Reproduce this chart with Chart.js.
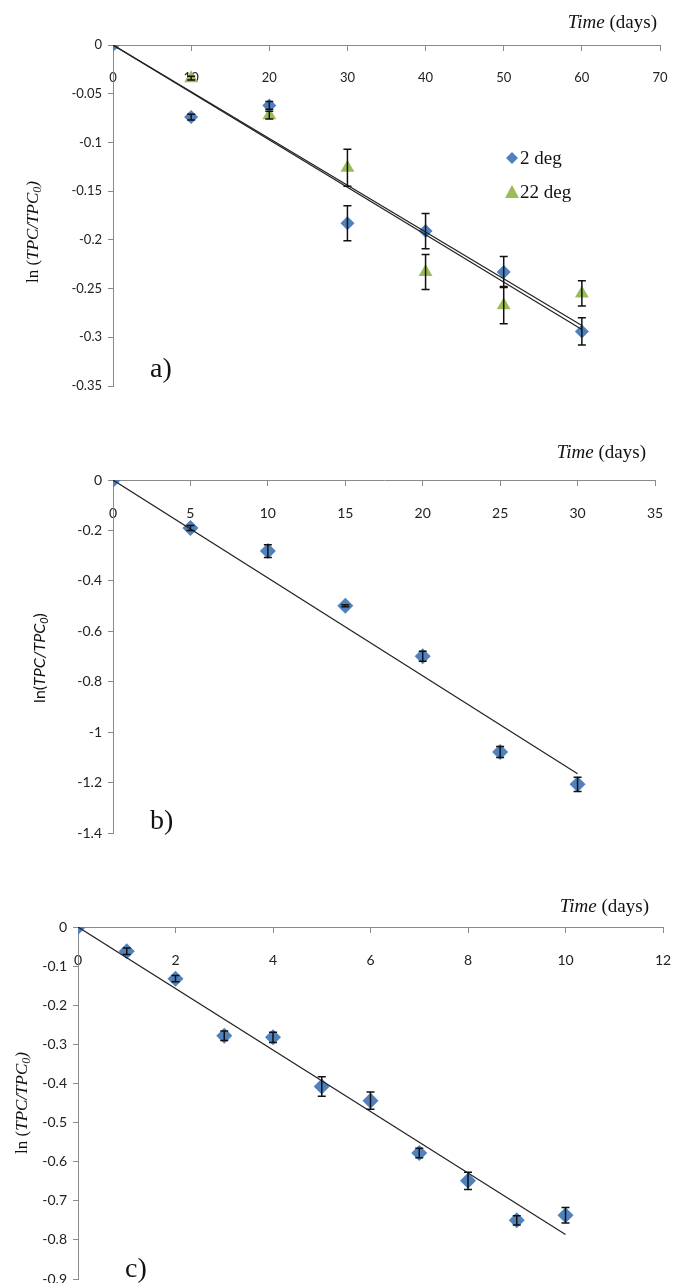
<!DOCTYPE html>
<html lang="en">
<head>
  <meta charset="UTF-8">
  <title>ln(TPC/TPC0) over time</title>
  <style>
    * { margin: 0; padding: 0; box-sizing: border-box; }
    body { width: 673px; height: 1283px; background: #fff; position: relative; overflow: hidden; }
    .panel { position: absolute; left: 0; width: 673px; }
  </style>
  <script src="https://cdn.jsdelivr.net/npm/chart.js"></script>
</head>
<body>
  <div class="panel" style="top:0;height:400px"><canvas id="chartA" width="673" height="400"></canvas></div>
  <div class="panel" style="top:430px;height:420px"><canvas id="chartB" width="673" height="420"></canvas></div>
  <div class="panel" style="top:860px;height:423px"><canvas id="chartC" width="673" height="423"></canvas></div>

  <script>
    // panel a) two storage temperatures
    const aDays = [0, 10, 20, 30, 40, 50, 60];
    const a2deg = [0, -0.074, -0.062, -0.183, -0.191, -0.233, -0.294];
    const a2degErr = [0, 0.003, 0.004, 0.018, 0.018, 0.016, 0.014];
    const a22deg = [0, -0.034, -0.072, -0.126, -0.233, -0.267, -0.255];
    const a22degErr = [0, 0.002, 0.004, 0.019, 0.018, 0.019, 0.013];
    const aTrendX = [0, 60];
    const aTrend2 = [0, -0.292];
    const aTrend22 = [0, -0.288];

    // panel b)
    const bDays = [0, 5, 10, 15, 20, 25, 30];
    const bVals = [0, -0.19, -0.282, -0.499, -0.699, -1.079, -1.207];
    const bErr = [0, 0.01, 0.025, 0.004, 0.02, 0.022, 0.028];
    const bTrendX = [0, 30];
    const bTrend = [0, -1.165];

    // panel c)
    const cDays = [0, 1, 2, 3, 4, 5, 6, 7, 8, 9, 10];
    const cVals = [0, -0.062, -0.132, -0.278, -0.282, -0.408, -0.444, -0.578, -0.649, -0.75, -0.737];
    const cErr = [0, 0.008, 0.008, 0.012, 0.013, 0.025, 0.022, 0.012, 0.022, 0.012, 0.02];
    const cTrendX = [0, 10];
    const cTrend = [0, -0.786];

    const BLUE = '#4F81BD';
    const GREEN = '#9BBB59';
    const SERIF = '"Liberation Serif", "Times New Roman", serif';
    const SANS = 'Lato, "Open Sans", sans-serif';

    function pts(xs, ys) {
      return xs.map((x, i) => ({ x: x, y: ys[i] }));
    }

    function drawRuns(ctx, runs, x, y, align) {
      let total = 0;
      runs.forEach(r => { ctx.font = r.f; total += ctx.measureText(r.t).width; });
      let cx = align === 'right' ? x - total : align === 'center' ? x - total / 2 : x;
      ctx.textBaseline = 'alphabetic';
      ctx.textAlign = 'left';
      runs.forEach(r => {
        ctx.font = r.f;
        ctx.fillText(r.t, cx, y + (r.dy || 0));
        cx += ctx.measureText(r.t).width;
      });
    }

    const errorBars = {
      id: 'errorBars',
      afterDatasetsDraw(chart) {
        const ctx = chart.ctx;
        const ys = chart.scales.y;
        chart.data.datasets.forEach((ds, i) => {
          if (!ds.errors) return;
          const meta = chart.getDatasetMeta(i);
          meta.data.forEach((pt, j) => {
            const e = ds.errors[j];
            if (!e) return;
            const v = ds.data[j].y;
            const top = ys.getPixelForValue(v + e);
            const bot = ys.getPixelForValue(v - e);
            ctx.save();
            ctx.strokeStyle = '#111';
            ctx.lineWidth = 1.5;
            ctx.beginPath();
            ctx.moveTo(pt.x, top); ctx.lineTo(pt.x, bot);
            ctx.moveTo(pt.x - 4, top); ctx.lineTo(pt.x + 4, top);
            ctx.moveTo(pt.x - 4, bot); ctx.lineTo(pt.x + 4, bot);
            ctx.stroke();
            ctx.restore();
          });
        });
      }
    };

    // texts: x title, rotated y title, panel letter, optional legend
    const decorations = {
      id: 'decorations',
      afterDraw(chart, args, o) {
        const ctx = chart.ctx;
        const area = chart.chartArea;
        ctx.save();
        ctx.fillStyle = '#111';
        drawRuns(ctx, [
          { t: 'Time', f: 'italic 19px ' + SERIF },
          { t: ' (days)', f: '19px ' + SERIF }
        ], area.right - o.timeRight, area.top - o.timeUp, 'right');

        ctx.save();
        ctx.translate(o.yTitleX, o.yTitleY);
        ctx.rotate(-Math.PI / 2);
        drawRuns(ctx, o.yTitle, 0, 5, 'center');
        ctx.restore();

        ctx.font = '28px ' + SERIF;
        ctx.textBaseline = 'middle';
        ctx.fillText(o.letter, o.letterX, o.letterY);

        if (o.legend) {
          o.legend.forEach(item => {
            const lx = area.left + item.dx;
            const ly = area.top + item.dy;
            ctx.fillStyle = item.color;
            ctx.beginPath();
            if (item.shape === 'diamond') {
              ctx.moveTo(lx, ly - 6); ctx.lineTo(lx + 6, ly); ctx.lineTo(lx, ly + 6); ctx.lineTo(lx - 6, ly);
            } else {
              ctx.moveTo(lx, ly - 7); ctx.lineTo(lx + 7, ly + 6); ctx.lineTo(lx - 7, ly + 6);
            }
            ctx.closePath();
            ctx.fill();
            ctx.fillStyle = '#111';
            ctx.font = '19px ' + SERIF;
            ctx.textBaseline = 'middle';
            ctx.fillText(item.text, lx + 8, ly + 1);
          });
        }
        ctx.restore();
      }
    };

    function trendSet(xs, ys) {
      return {
        type: 'line', data: pts(xs, ys), borderColor: '#222', borderWidth: 1.2,
        pointRadius: 0, fill: false, tension: 0
      };
    }

    function markerSet(xs, ys, errs, color, style, r) {
      return {
        type: 'scatter', data: pts(xs, ys), errors: errs, showLine: false,
        backgroundColor: color, borderColor: color, borderWidth: 0,
        pointStyle: style, pointRadius: r, pointHoverRadius: r
      };
    }

    function yLabel(v) {
      if (Math.abs(v) < 1e-9) return '0';
      return String(parseFloat(v.toFixed(2)));
    }

    function noPad(scale) {
      scale.paddingLeft = 0;
      scale.paddingRight = 0;
      scale.paddingTop = 0;
      scale.paddingBottom = 0;
    }

    function makeChart(id, c) {
      new Chart(document.getElementById(id), {
        data: { datasets: c.datasets },
        options: {
          responsive: false,
          animation: false,
          events: [],
          layout: { padding: c.padding, autoPadding: false },
          plugins: {
            legend: { display: false },
            tooltip: { enabled: false },
            decorations: c.deco
          },
          scales: {
            x: {
              type: 'linear',
              position: { y: 0 },
              min: 0, max: c.xMax,
              ticks: { stepSize: c.xStep, padding: 20, color: '#222', font: { family: SANS, size: c.tickSize } },
              grid: { drawOnChartArea: false, drawTicks: true, tickLength: 5, color: '#8a8a8a' },
              border: { color: '#8a8a8a', width: 1 },
              afterFit: noPad
            },
            y: {
              type: 'linear',
              min: c.yMin, max: 0,
              ticks: { stepSize: c.yStep, padding: 6, color: '#222', font: { family: SANS, size: c.tickSize }, callback: yLabel },
              grid: { drawOnChartArea: false, drawTicks: true, tickLength: 5, color: '#8a8a8a' },
              border: { color: '#8a8a8a', width: 1 },
              afterFit(scale) { scale.width = c.yWidth; noPad(scale); }
            }
          }
        },
        plugins: [errorBars, decorations]
      });
    }

    const serifTitle = [
      { t: 'ln (', f: '17px ' + SERIF },
      { t: 'TPC/TPC', f: 'italic 17px ' + SERIF },
      { t: '0', f: 'italic 12px ' + SERIF, dy: 3 },
      { t: ')', f: 'italic 17px ' + SERIF }
    ];

    makeChart('chartA', {
      xMax: 70, xStep: 10, yMin: -0.35, yStep: 0.05, yWidth: 113, tickSize: 13,
      padding: { top: 45, right: 13, bottom: 14, left: 0 },
      datasets: [
        trendSet(aTrendX, aTrend2),
        trendSet(aTrendX, aTrend22),
        markerSet(aDays, a2deg, a2degErr, BLUE, 'rectRot', 7),
        markerSet(aDays, a22deg, a22degErr, GREEN, 'triangle', 8)
      ],
      deco: {
        timeRight: 3, timeUp: 17,
        yTitleX: 33, yTitleY: 232, yTitle: serifTitle,
        letter: 'a)', letterX: 150, letterY: 370,
        legend: [
          { shape: 'diamond', color: BLUE, text: '2 deg', dx: 399, dy: 113 },
          { shape: 'triangle', color: GREEN, text: '22 deg', dx: 399, dy: 147 }
        ]
      }
    });

    makeChart('chartB', {
      xMax: 35, xStep: 5, yMin: -1.4, yStep: 0.2, yWidth: 113, tickSize: 14,
      padding: { top: 50, right: 18, bottom: 17, left: 0 },
      datasets: [
        trendSet(bTrendX, bTrend),
        markerSet(bDays, bVals, bErr, BLUE, 'rectRot', 8)
      ],
      deco: {
        timeRight: 9, timeUp: 22,
        yTitleX: 40, yTitleY: 228,
        yTitle: [
          { t: 'ln(', f: '16px ' + SANS },
          { t: 'TPC/TPC', f: 'italic 16px ' + SANS },
          { t: '0', f: 'italic 11px ' + SANS, dy: 3 },
          { t: ')', f: '16px ' + SANS }
        ],
        letter: 'b)', letterX: 150, letterY: 392
      }
    });

    makeChart('chartC', {
      xMax: 12, xStep: 2, yMin: -0.9, yStep: 0.1, yWidth: 78, tickSize: 14,
      padding: { top: 67, right: 10, bottom: 4, left: 0 },
      datasets: [
        trendSet(cTrendX, cTrend),
        markerSet(cDays, cVals, cErr, BLUE, 'rectRot', 8)
      ],
      deco: {
        timeRight: 14, timeUp: 15,
        yTitleX: 22, yTitleY: 243, yTitle: serifTitle,
        letter: 'c)', letterX: 125, letterY: 410
      }
    });
  </script>
</body>
</html>
